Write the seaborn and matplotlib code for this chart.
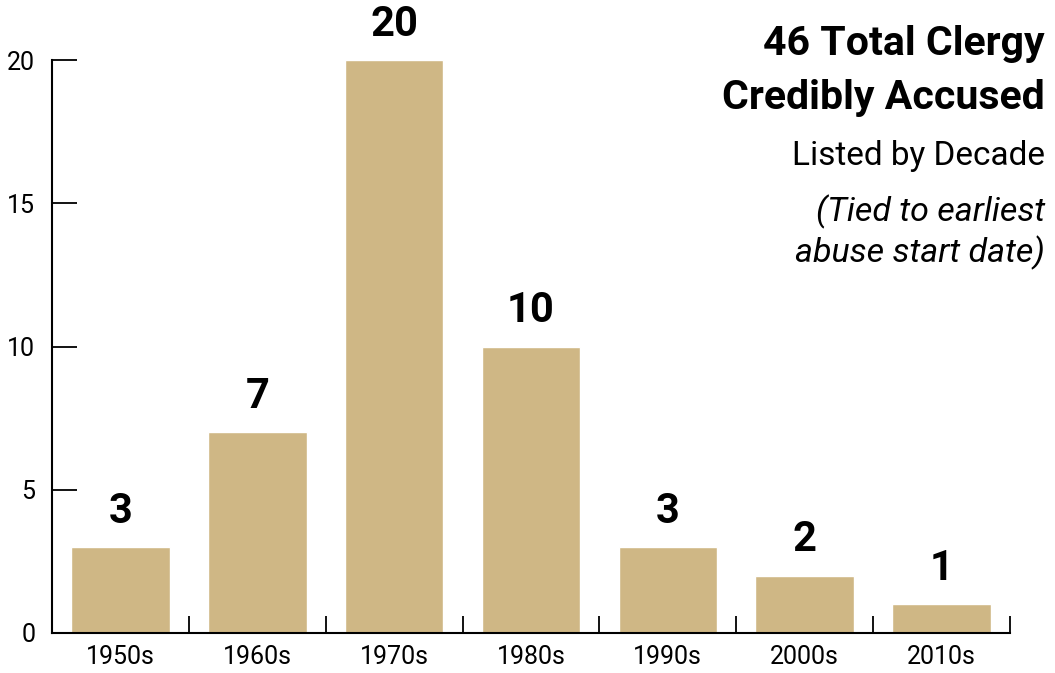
import numpy as np
import pandas as pd
import seaborn as sns
import matplotlib.pyplot as plt

DECADES = ['1950s', '1960s', '1970s', '1980s', '1990s', '2000s', '2010s']
COUNTS = [3, 7, 20, 10, 3, 2, 1]
Y_TICKS = [0, 5, 10, 15, 20]
BAR_COLOR = '#CFB785'

TITLE_LINES = ['46 Total Clergy', 'Credibly Accused']
SUBTITLE = 'Listed by Decade'
NOTE_LINES = ['(Tied to earliest', 'abuse start date)']


def main():
    sns.set_style('ticks', {'axes.edgecolor': 'black', 'text.color': 'black',
                            'xtick.color': 'black', 'ytick.color': 'black'})
    plt.rcParams['font.family'] = ['Roboto', 'DejaVu Sans']

    df = pd.DataFrame({'decade': DECADES, 'count': COUNTS})

    W, H = 1055, 673
    fig = plt.figure(figsize=(W / 100, H / 100), dpi=100)
    ax = fig.add_axes([52 / W, 40 / H, 958 / W, 573 / H])

    sns.barplot(data=df, x='decade', y='count', color=BAR_COLOR, width=0.72,
                saturation=1, ax=ax)

    # value labels above each bar
    for i, v in enumerate(COUNTS):
        ax.annotate(str(v), (i, v), xytext=(0, 11), textcoords='offset points',
                    ha='center', va='bottom', fontsize=30, fontweight='bold',
                    color='black', annotation_clip=False)

    ax.set_xlim(-0.5, len(DECADES) - 0.5)
    ax.set_ylim(0, 20)
    ax.set_yticks(Y_TICKS)
    ax.set_xlabel('')
    ax.set_ylabel('')
    sns.despine(ax=ax)
    for s in ['left', 'bottom']:
        ax.spines[s].set_linewidth(1.5)

    ax.tick_params(axis='y', direction='in', length=18, width=1.3, pad=12,
                   labelsize=18)
    ax.tick_params(axis='x', which='major', length=0, pad=9, labelsize=18)
    ax.set_xticks(np.arange(-0.5, len(DECADES), 1.0), minor=True)
    ax.tick_params(axis='x', which='minor', direction='in', length=12, width=1.3)

    x_right = 1045 / W
    fig.text(x_right, 1 - 55 / H, TITLE_LINES[0], ha='right', va='baseline',
             fontsize=29.5, fontweight='bold')
    fig.text(x_right, 1 - 109 / H, TITLE_LINES[1], ha='right', va='baseline',
             fontsize=29.5, fontweight='bold')
    fig.text(x_right, 1 - 165 / H, SUBTITLE, ha='right', va='baseline',
             fontsize=24)
    fig.text(x_right, 1 - 221 / H, NOTE_LINES[0], ha='right', va='baseline',
             fontsize=24.5, style='italic')
    fig.text(x_right, 1 - 262 / H, NOTE_LINES[1], ha='right', va='baseline',
             fontsize=24.5, style='italic')

    fig.savefig('out.png', dpi=100)


if __name__ == '__main__':
    main()
